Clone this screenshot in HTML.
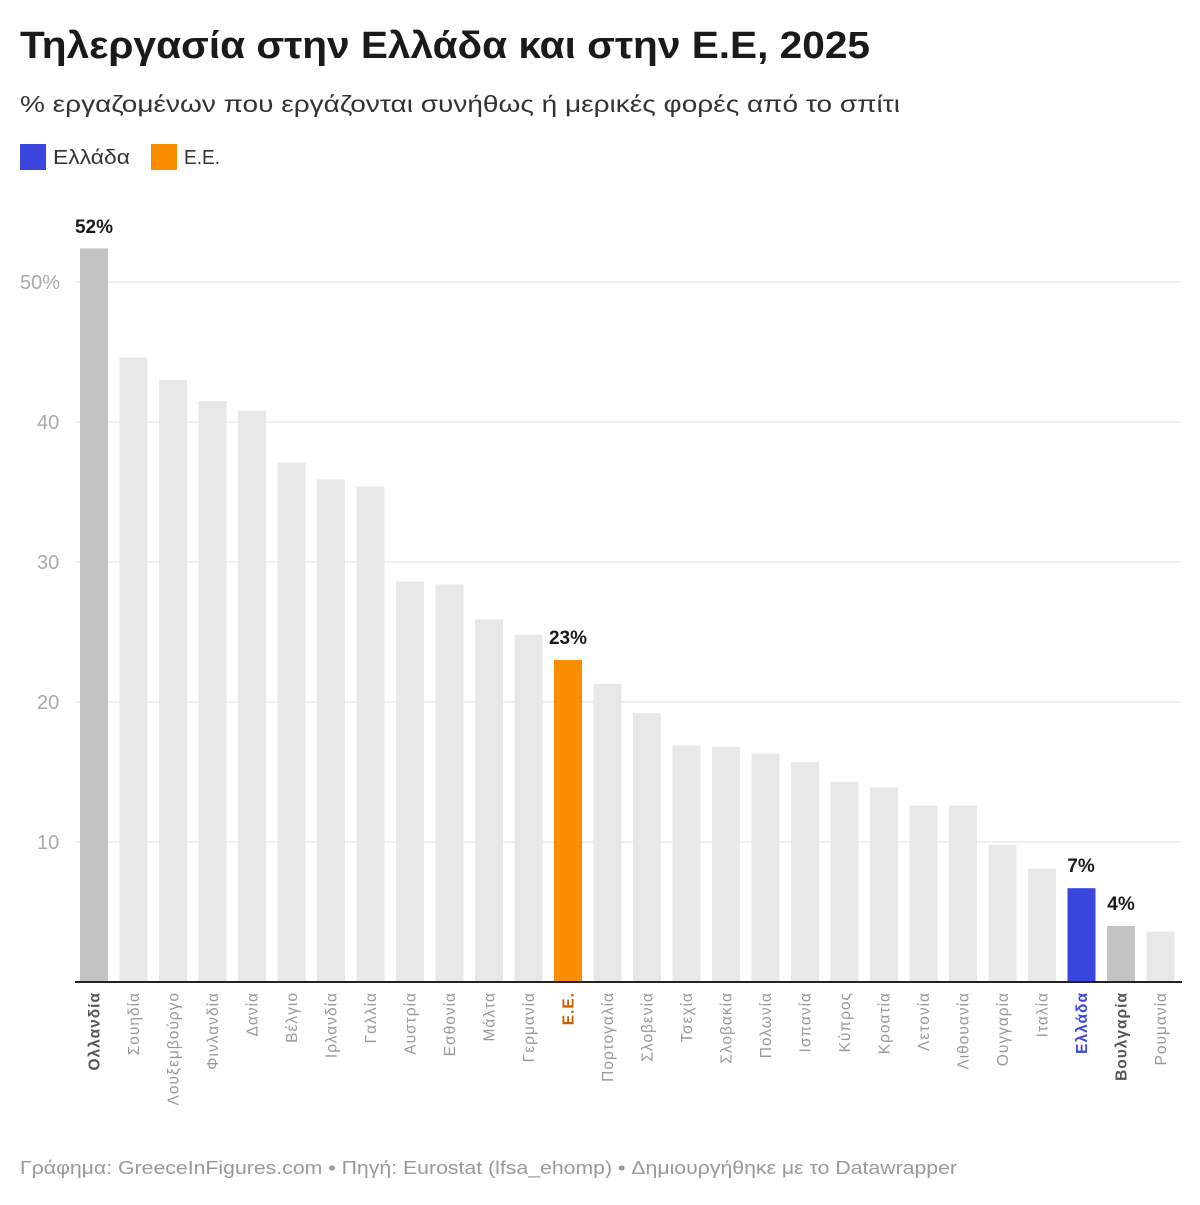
<!DOCTYPE html>
<html><head><meta charset="utf-8"><style>
body{margin:0;background:#fff;width:1200px;height:1200px;overflow:hidden;font-family:"Liberation Sans","DejaVu Sans",sans-serif}
</style></head><body>
<svg width="1200" height="1200" xmlns="http://www.w3.org/2000/svg" font-family="Liberation Sans, DejaVu Sans, sans-serif">
<text x="20" y="58" font-size="38" font-weight="bold" fill="#1a1a1a" textLength="850" lengthAdjust="spacingAndGlyphs">Τηλεργασία στην Ελλάδα και στην Ε.Ε, 2025</text>
<text x="20" y="112" font-size="23" fill="#333" textLength="880" lengthAdjust="spacingAndGlyphs">% εργαζομένων που εργάζονται συνήθως ή μερικές φορές από το σπίτι</text>
<rect x="20" y="144" width="26" height="26" fill="#3a45de"/>
<text x="53" y="164" font-size="20" fill="#333" textLength="77" lengthAdjust="spacingAndGlyphs">Ελλάδα</text>
<rect x="151" y="144" width="26" height="26" fill="#fa8c00"/>
<text x="184" y="164" font-size="20" fill="#333" textLength="36" lengthAdjust="spacingAndGlyphs">Ε.Ε.</text>
<g stroke="#e0e0e0" stroke-width="1">
<line x1="75" x2="1182" y1="282" y2="282"/><line x1="75" x2="1182" y1="422" y2="422"/><line x1="75" x2="1182" y1="562" y2="562"/><line x1="75" x2="1182" y1="702" y2="702"/><line x1="75" x2="1182" y1="842" y2="842"/>
</g>
<g font-size="20" fill="#aaa">
<text x="20" y="289">50%</text><text x="37" y="429">40</text><text x="37" y="569">30</text><text x="37" y="709">20</text><text x="37" y="849">10</text>
</g>
<g id="bars"></g>
<line x1="75" x2="1182" y1="982" y2="982" stroke="#222" stroke-width="2"/>
<g id="labels"></g>
<g font-size="19" font-weight="bold" fill="#1a1a1a" text-anchor="middle">
<text x="94" y="233">52%</text><text x="568" y="644">23%</text><text x="1081" y="872">7%</text><text x="1121" y="910">4%</text>
</g>
<text x="20" y="1174" font-size="18" fill="#999" textLength="937" lengthAdjust="spacingAndGlyphs">Γράφημα: GreeceInFigures.com • Πηγή: Eurostat (lfsa_ehomp) • Δημιουργήθηκε με το Datawrapper</text>
</svg>
<script>
var d=[["Ολλανδία",52.4,"#c4c4c4","#555",1],["Σουηδία",44.6],["Λουξεμβούργο",43],["Φινλανδία",41.5],["Δανία",40.8],["Βέλγιο",37.1],["Ιρλανδία",35.9],["Γαλλία",35.4],["Αυστρία",28.6],["Εσθονία",28.4],["Μάλτα",25.9],["Γερμανία",24.8],["Ε.Ε.",23,"#fa8c00","#c85a00",1],["Πορτογαλία",21.3],["Σλοβενία",19.2],["Τσεχία",16.9],["Σλοβακία",16.8],["Πολωνία",16.3],["Ισπανία",15.7],["Κύπρος",14.3],["Κροατία",13.9],["Λετονία",12.6],["Λιθουανία",12.6],["Ουγγαρία",9.8],["Ιταλία",8.1],["Ελλάδα",6.7,"#3a45de","#3a45de",1],["Βουλγαρία",4,"#c4c4c4","#555",1],["Ρουμανία",3.6]];
var ns="http://www.w3.org/2000/svg",b=document.getElementById("bars"),l=document.getElementById("labels");
d.forEach(function(r,i){var x=80+39.5*i,h=14*r[1];
var e=document.createElementNS(ns,"rect");e.setAttribute("x",x);e.setAttribute("width",28);e.setAttribute("y",982-h);e.setAttribute("height",h);e.setAttribute("fill",r[2]||"#e8e8e8");b.appendChild(e);
var t=document.createElementNS(ns,"text");var cx=x+14+5.5,cy=992;t.setAttribute("transform","translate("+cx+","+cy+") rotate(-90)");t.setAttribute("text-anchor","end");t.setAttribute("font-size","15.5");t.setAttribute("letter-spacing","1");t.setAttribute("fill",r[3]||"#999");if(r[4])t.setAttribute("font-weight","bold");t.textContent=r[0];l.appendChild(t);});
</script>
</body></html>
